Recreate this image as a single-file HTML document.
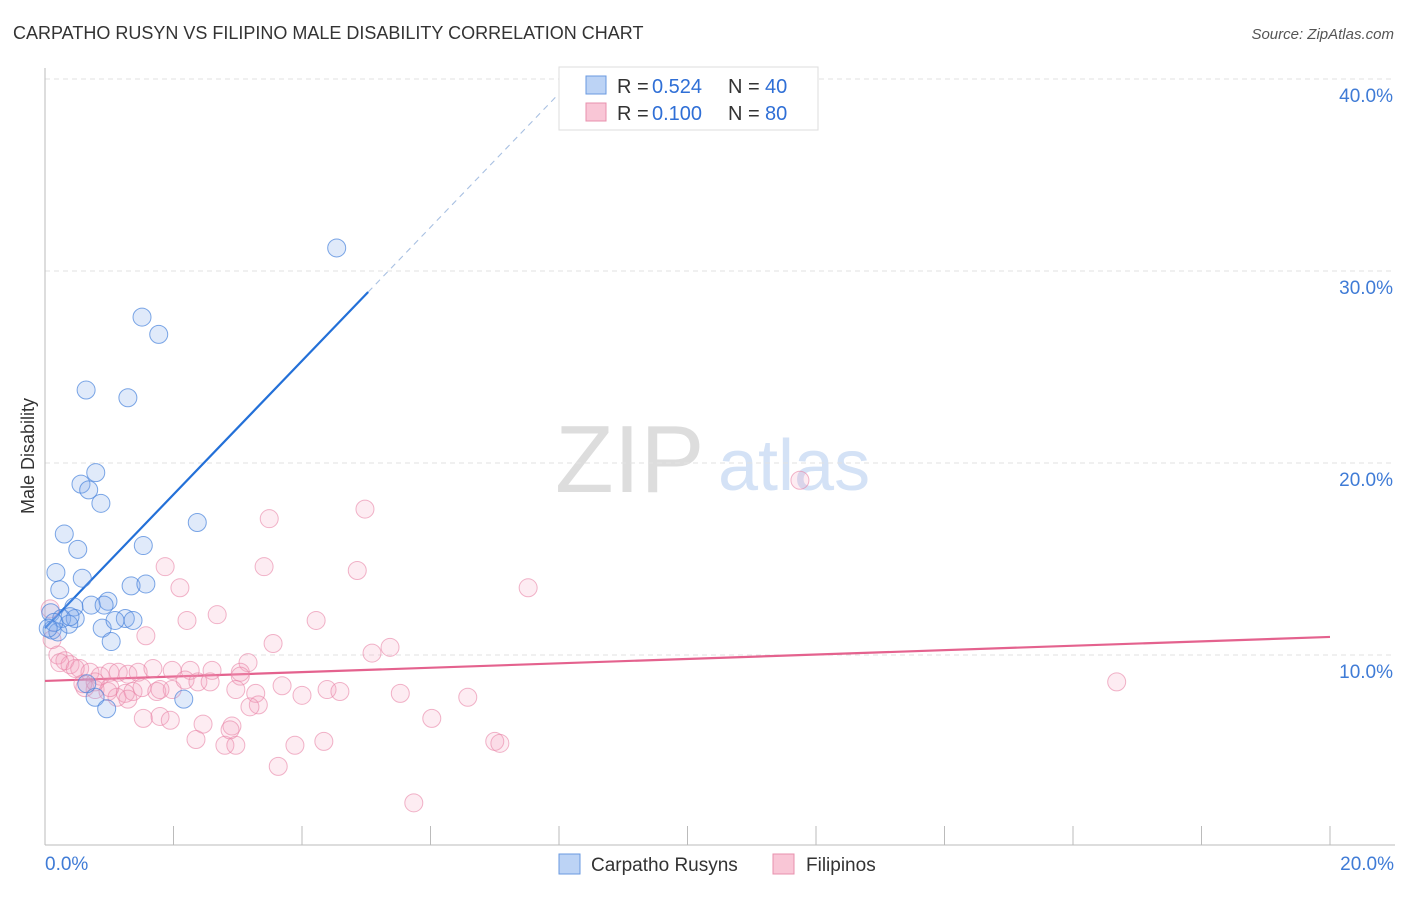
<!DOCTYPE html>
<html><head><meta charset="utf-8"><style>
body{margin:0;background:#fff;font-family:"Liberation Sans",sans-serif;}
svg text{font-family:"Liberation Sans",sans-serif;}
</style></head><body>
<svg id="chart" width="1406" height="892" xmlns="http://www.w3.org/2000/svg">
<text x="13" y="39" font-size="18" fill="#333">CARPATHO RUSYN VS FILIPINO MALE DISABILITY CORRELATION CHART</text>
<text x="1394" y="39" font-size="15" fill="#555" text-anchor="end" font-style="italic">Source: ZipAtlas.com</text>
<g>
<text x="555" y="492" font-size="96" fill="#ddd" font-family="Liberation Serif,serif">ZIP</text>
<text x="718" y="490" font-size="72" fill="#d4e2f6">atlas</text>
</g>
<g id="grid"></g>
<g id="axes"></g>
<g id="trend"></g>
<g id="pts"></g>
<text transform="translate(34,456) rotate(-90)" font-size="18" fill="#333" text-anchor="middle">Male Disability</text>
<g>
<rect x="559" y="67" width="259" height="63" fill="#fff" stroke="#ddd"/>
<rect x="586" y="76" width="20" height="18" fill="#bcd3f5" stroke="#6a9ae0"/>
<rect x="586" y="103" width="20" height="18" fill="#f9c6d6" stroke="#e890ad"/>
<text x="617" y="93" font-size="20" fill="#333">R =</text>
<text x="652" y="93" font-size="20" fill="#2f6fd6">0.524</text>
<text x="728" y="93" font-size="20" fill="#333">N =</text>
<text x="765" y="93" font-size="20" fill="#2f6fd6">40</text>
<text x="617" y="120" font-size="20" fill="#333">R =</text>
<text x="652" y="120" font-size="20" fill="#2f6fd6">0.100</text>
<text x="728" y="120" font-size="20" fill="#333">N =</text>
<text x="765" y="120" font-size="20" fill="#2f6fd6">80</text>
</g>
<g>
<rect x="559" y="854" width="21" height="20" fill="#bcd3f5" stroke="#6a9ae0"/>
<text x="591" y="871" font-size="19" fill="#333">Carpatho Rusyns</text>
<rect x="773" y="854" width="21" height="20" fill="#f9c6d6" stroke="#e890ad"/>
<text x="806" y="871" font-size="19" fill="#333">Filipinos</text>
</g>
</svg>
<script>
const yTicks=[10,20,30,40];
const yTickLabels=["10.0%","20.0%","30.0%","40.0%"];
const xTickLabels=["0.0%","20.0%"];
const blueX=[4.54,1.51,1.77,0.64,1.29,0.79,0.56,0.68,0.87,2.37,0.30,1.53,0.51,0.17,0.58,1.34,1.57,0.23,0.98,0.72,0.92,0.45,0.09,1.25,0.26,1.37,0.47,0.37,0.11,0.89,0.20,1.03,2.16,0.78,0.96,0.65,0.14,0.05,0.39,1.09];
const blueY=[31.2,27.6,26.7,23.8,23.4,19.5,18.9,18.6,17.9,16.9,16.3,15.7,15.5,14.3,14.0,13.6,13.7,13.4,12.8,12.6,12.6,12.5,12.2,11.9,11.9,11.8,11.9,11.6,11.3,11.4,11.2,10.7,7.7,7.8,7.2,8.5,11.7,11.4,12.0,11.8];
const pinkX=[11.75,4.98,3.49,4.86,3.41,1.87,7.52,2.10,2.68,2.21,4.22,1.57,3.55,5.37,5.09,0.08,0.11,0.20,0.31,0.39,0.54,0.70,0.86,1.01,1.14,1.29,1.45,1.68,1.98,2.26,2.60,3.16,3.04,3.69,4.00,4.39,4.59,5.53,6.58,16.68,0.62,0.78,0.98,1.12,1.25,1.37,1.51,1.74,1.98,2.18,2.38,2.57,3.04,3.28,3.32,3.19,1.53,1.79,1.95,2.46,2.91,2.35,2.80,2.97,3.89,4.34,6.02,7.00,7.08,3.63,5.74,1.29,0.59,1.01,2.88,0.78,0.23,0.47,1.79,2.97];
const pinkY=[19.1,17.6,17.1,14.4,14.6,14.6,13.5,13.5,12.1,11.8,11.8,11.0,10.6,10.4,10.1,12.4,10.8,10.0,9.7,9.5,9.3,9.1,8.9,9.1,9.1,9.0,9.1,9.3,9.2,9.2,9.2,9.6,9.1,8.4,7.9,8.2,8.1,8.0,7.8,8.6,8.3,8.2,8.1,7.8,8.0,8.1,8.3,8.1,8.2,8.7,8.6,8.6,8.9,8.0,7.4,7.3,6.7,6.8,6.6,6.4,6.3,5.6,5.3,5.3,5.3,5.5,6.7,5.5,5.4,4.2,2.3,7.7,8.5,8.3,6.1,8.6,9.6,9.3,8.2,8.2];
const blueTrend=[11.4,3.48]; // intercept, slope
const pinkTrend=[8.65,0.1145];
const X=v=>45+v*64.25, Y=v=>847-v*19.2;
const NS="http://www.w3.org/2000/svg";
function mk(tag,attrs,parent){const e=document.createElementNS(NS,tag);for(const k in attrs)e.setAttribute(k,attrs[k]);document.getElementById(parent).appendChild(e);return e;}
yTicks.forEach((t,i)=>{
 const l=mk('line',{x1:45,x2:1395,y1:Y(t),y2:Y(t),stroke:'#e2e2e2','stroke-dasharray':'5,4'},'grid');
 
 
 const tx=mk('text',{x:1393,y:Y(t)+23,'font-size':19,fill:'#3f7bd6','text-anchor':'end'},'grid');
 tx.textContent=yTickLabels[i];
 
 
});
const ax=mk('line',{x1:45,x2:45,y1:68,y2:845,stroke:'#bbb'},'axes');


const bx=mk('line',{x1:45,x2:1395,y1:845,y2:845,stroke:'#bbb'},'axes');


for(let i=0;i<=10;i++){const t=mk('line',{x1:X(i*2),x2:X(i*2),y1:826,y2:845,stroke:'#bbb'},'axes');
 
 }
[[0,'start',45],[20,'end',1394]].forEach((a,i)=>{const t=mk('text',{x:a[2],y:870,'font-size':19,fill:'#3f7bd6','text-anchor':a[1]},'axes');t.textContent=xTickLabels[i];
 
 });
function pts(xs,ys,fill,stroke,name){xs.forEach((x,i)=>{const c=mk('circle',{cx:X(x),cy:Y(ys[i]),r:9,fill:fill,stroke:stroke,'stroke-width':1},'pts');
 
 });}
pts(pinkX,pinkY,'rgba(244,160,188,0.2)','rgba(232,130,165,0.6)','filipino-point');
pts(blueX,blueY,'rgba(130,170,235,0.25)','rgba(70,130,220,0.7)','carpatho-rusyn-point');
const bEnd=5.03, bDash=8.0;
const t1=mk('line',{x1:X(0),y1:Y(blueTrend[0]),x2:X(bEnd),y2:Y(blueTrend[0]+blueTrend[1]*bEnd),stroke:'#2370d8','stroke-width':2.2},'trend');


const t2=mk('line',{x1:X(bEnd),y1:Y(blueTrend[0]+blueTrend[1]*bEnd),x2:X(bDash),y2:Y(blueTrend[0]+blueTrend[1]*bDash),stroke:'#a8c0e2','stroke-width':1.1,'stroke-dasharray':'6,5'},'trend');


const t3=mk('line',{x1:X(0),y1:Y(pinkTrend[0]),x2:X(20),y2:Y(pinkTrend[0]+pinkTrend[1]*20),stroke:'#e4628e','stroke-width':2.2},'trend');


</script>
</body></html>
